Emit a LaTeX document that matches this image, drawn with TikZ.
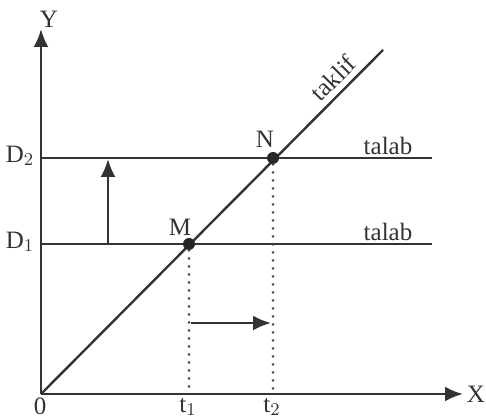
\documentclass[tikz,border=0pt]{standalone}
\usepackage{fontspec}
\setmainfont{Liberation Serif}
\usetikzlibrary{arrows.meta}
\tikzset{
  gaxis/.style={draw=black!80, line width=1.3pt, -{Latex[length=9pt,width=7.5pt,fill=black!80]}},
  gline/.style={draw=black!80, line width=1.2pt},
  gshift/.style={draw=black!80, line width=1.2pt, -{Latex[length=9pt,width=7.5pt,fill=black!80]}},
  gguide/.style={draw=black!75, line width=1.4pt, line cap=round, dash pattern=on 0pt off 4pt},
  gdot/.style={circle, fill=black!85, inner sep=0pt, minimum size=6pt},
  glbl/.style={font=\fontsize{12.5}{14}\selectfont, text=black!80, inner sep=1pt}
}
\begin{document}
\begin{tikzpicture}[x=0.5pt, y=0.5pt]
    \useasboundingbox (0,0) rectangle (486,417);
    % axes
    \coordinate (O) at (41,23);
    \coordinate (ytip) at (41,388);
    \coordinate (xtip) at (463,23);
    \draw[gaxis] (O) -- (ytip);
    \draw[gaxis] (O) -- (xtip);
    \node[glbl] (ylab) at (49,398) {Y};
    \node[glbl] (xlab) at (476,23) {X};
    \node[glbl] (zero) at (40,11) {0};
    % demand lines
    \coordinate (d2a) at (41,259);
    \coordinate (d2b) at (432,259);
    \coordinate (d1a) at (41,173);
    \coordinate (d1b) at (432,173);
    \draw[gline] (d2a) -- (d2b);
    \draw[gline] (d1a) -- (d1b);
    \node[glbl] (dtwo) at (20,261) {D$_2$};
    \node[glbl] (done) at (20,175) {D$_1$};
    \node[glbl] (talabtwo) at (388,271) {talab};
    \node[glbl] (talabone) at (388,185) {talab};
    % supply line
    \coordinate (send) at (383,367);
    \draw[gline] (O) -- (send);
    \node[glbl, rotate=45] (taklif) at (333,339) {taklif};
    % equilibria
    \node[gdot] (M) at (189,173) {};
    \node[gdot] (N) at (273,259) {};
    \node[glbl] (mlab) at (180,190) {M};
    \node[glbl] (nlab) at (265,278) {N};
    \coordinate (t1) at (189,25);
    \coordinate (t2) at (273,25);
    \draw[gguide] (M) -- (t1);
    \draw[gguide] (N) -- (t2);
    \node[glbl] (tone) at (188,10) {t$_1$};
    \node[glbl] (ttwo) at (272,10) {t$_2$};
    % shifts
    \coordinate (ua) at (108,173);
    \coordinate (ub) at (108,258);
    \draw[gshift] (ua) -- (ub);
    \coordinate (ra) at (191,94);
    \coordinate (rb) at (271,94);
    \draw[gshift] (ra) -- (rb);
\end{tikzpicture}
\end{document}
